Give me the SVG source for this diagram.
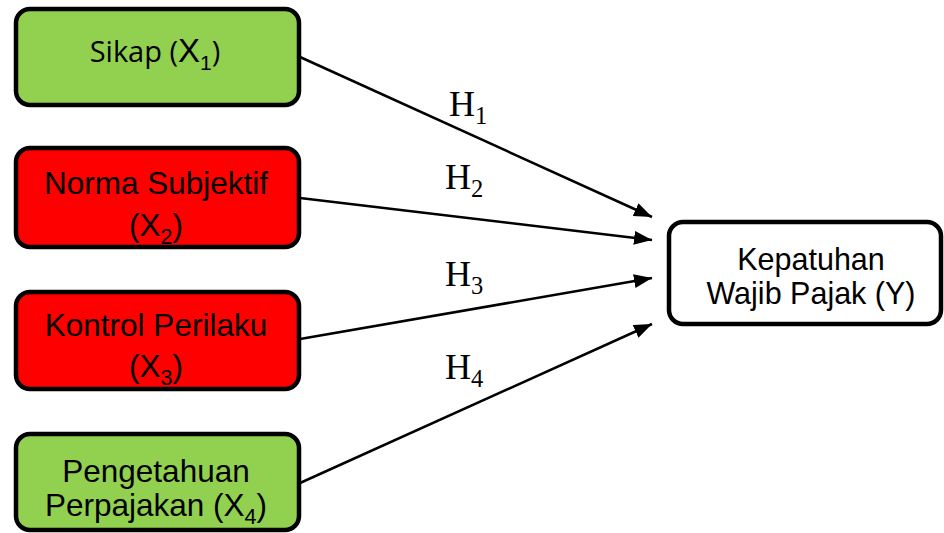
<svg xmlns="http://www.w3.org/2000/svg" width="944" height="533" viewBox="0 0 944 533">
<defs>
<style>
.box{stroke:#000;stroke-width:4.5}
.g{fill:#92D050}
.r{fill:#FF0000}
.w{fill:#FFFFFF}
.t{font-family:"Liberation Sans",Arial,sans-serif;font-size:31.5px;fill:#000;text-anchor:middle}
.k{font-size:30.5px}
.c{font-family:"Open Sans","Noto Sans",sans-serif;font-size:29px;fill:#000;text-anchor:middle}
.h{font-family:"Liberation Serif","Times New Roman",serif;font-size:36px;fill:#000}
.s{font-size:0.68em}
.edge{stroke:#000;stroke-width:2.5;fill:none;marker-end:url(#ah)}
</style>
<marker id="ah" markerUnits="userSpaceOnUse" markerWidth="20" markerHeight="16" refX="18" refY="7" orient="auto">
<path d="M0,0 L18,7 L0,14 Z" fill="#000"/>
</marker>
</defs>
<g id="connectors">
<line class="edge" x1="300" y1="57" x2="652" y2="217"/>
<line class="edge" x1="300" y1="198" x2="652" y2="240"/>
<line class="edge" x1="300" y1="339" x2="652" y2="278"/>
<line class="edge" x1="300" y1="483" x2="652" y2="324"/>
</g>
<g id="labels">
<text class="h" x="449" y="116">H<tspan class="s" dy="8">1</tspan></text>
<text class="h" x="445" y="189">H<tspan class="s" dy="8">2</tspan></text>
<text class="h" x="445" y="286">H<tspan class="s" dy="8">3</tspan></text>
<text class="h" x="445" y="379">H<tspan class="s" dy="8">4</tspan></text>
</g>
<g id="sikap">
<rect class="box g" x="16" y="9" width="283" height="96" rx="14"/>
<text class="c" x="155" y="62">Sikap (<tspan font-family="Liberation Sans, Arial, sans-serif" font-size="33">X</tspan><tspan font-family="Liberation Sans, Arial, sans-serif" font-size="21" dy="8">1</tspan><tspan dy="-8">)</tspan></text>
</g>
<g id="norma">
<rect class="box r" x="16" y="148" width="283" height="99" rx="14"/>
<text class="t" x="156" y="194">Norma Subjektif</text>
<text class="t" x="156" y="236">(X<tspan class="s" dy="8">2</tspan><tspan dy="-8">)</tspan></text>
</g>
<g id="kontrol">
<rect class="box r" x="16" y="292" width="283" height="97" rx="14"/>
<text class="t" x="156" y="336">Kontrol Perilaku</text>
<text class="t" x="156" y="377">(X<tspan class="s" dy="8">3</tspan><tspan dy="-8">)</tspan></text>
</g>
<g id="pengetahuan">
<rect class="box g" x="16" y="434" width="283" height="96" rx="14"/>
<text class="t" x="156" y="482">Pengetahuan</text>
<text class="t" x="156" y="516">Perpajakan (X<tspan class="s" dy="8">4</tspan><tspan dy="-8">)</tspan></text>
</g>
<g id="kepatuhan">
<rect class="box w" x="669" y="222" width="272" height="102" rx="14"/>
<text class="t k" x="811" y="270">Kepatuhan</text>
<text class="t k" x="811" y="304">Wajib Pajak (Y)</text>
</g>
</svg>
